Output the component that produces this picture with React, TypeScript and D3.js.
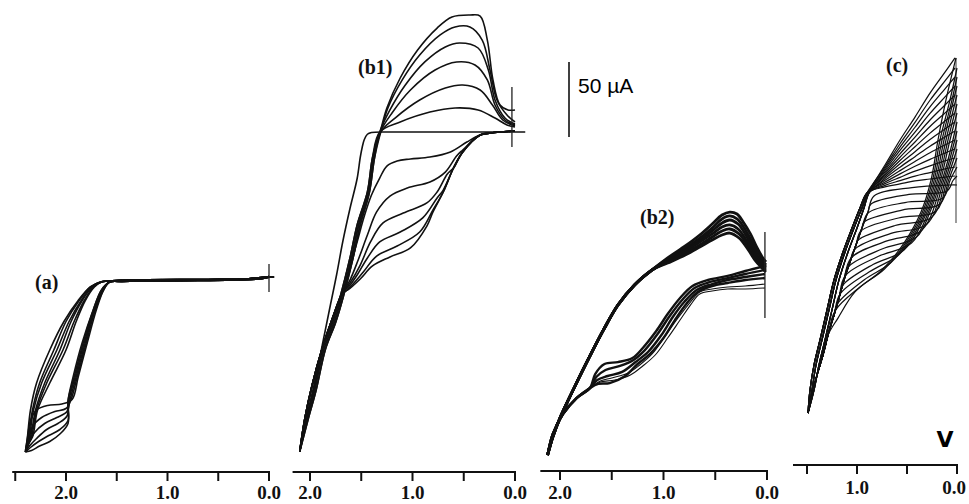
import React from "react";
import * as d3 from "d3";

type Pt = [number, number]; // [potential V, current µA]

// ---------------- Panel (a) ----------------
const aFlatOut: Pt[] = [[-0.05, 2.5], [0, 2.5], [0.08, 1.5], [0.25, 0.8], [0.7, 0.3], [1.2, 0], [1.45, -0.3]];
const aFlatBack: Pt[] = [[1.5, 0.3], [1.2, 0.8], [0.6, 1], [0.2, 1.5], [0.05, 2.5], [0, 3]];
const aForward: Pt[][] = [
  [[1.57, -0.7], [1.63, -6], [1.70, -19], [1.79, -41], [1.88, -64], [1.94, -79], [2.04, -82], [2.18, -83], [2.29, -86], [2.35, -93], [2.38, -105], [2.40, -114]],
  [[1.57, -0.7], [1.63, -6], [1.71, -19], [1.80, -41], [1.89, -64], [1.95, -79], [2.00, -85], [2.11, -87], [2.24, -91], [2.33, -97], [2.37, -107], [2.40, -114]],
  [[1.57, -0.7], [1.64, -6], [1.72, -19], [1.81, -41], [1.90, -64], [1.96, -79], [1.99, -87], [2.09, -91], [2.21, -95], [2.31, -101], [2.37, -109], [2.40, -114]],
  [[1.57, -0.7], [1.64, -6], [1.72, -19], [1.82, -41], [1.91, -64], [1.97, -79], [1.99, -90], [2.08, -95], [2.19, -99], [2.29, -105], [2.36, -110], [2.40, -114]],
  [[1.57, -0.7], [1.65, -6], [1.73, -19], [1.83, -41], [1.92, -64], [1.98, -80], [1.98, -93], [2.06, -99], [2.17, -103], [2.27, -107], [2.35, -111], [2.40, -114]],
  [[1.57, -0.7], [1.65, -6], [1.73, -19], [1.84, -41], [1.93, -64], [1.98, -80], [1.98, -95], [2.06, -102], [2.16, -107], [2.26, -110], [2.34, -113], [2.40, -114]],
];
const aReverse: Pt[][] = [
  [[2.40, -114], [2.38, -104], [2.35, -86], [2.29, -68], [2.16, -46], [2.02, -27], [1.88, -13], [1.76, -4], [1.66, -0.7]],
  [[2.40, -113], [2.37, -104], [2.33, -86], [2.26, -68], [2.12, -46], [2.00, -27], [1.87, -13], [1.76, -4], [1.66, -0.7]],
  [[2.39, -112], [2.36, -104], [2.32, -86], [2.24, -68], [2.09, -46], [1.97, -27], [1.85, -13], [1.75, -4], [1.66, -0.7]],
  [[2.39, -111], [2.35, -104], [2.30, -86], [2.21, -68], [2.06, -46], [1.95, -27], [1.84, -13], [1.74, -4], [1.65, -0.7]],
  [[2.38, -110], [2.34, -104], [2.29, -86], [2.19, -68], [2.03, -46], [1.92, -27], [1.82, -13], [1.73, -4], [1.65, -0.7]],
  [[2.38, -109], [2.33, -104], [2.28, -86], [2.16, -68], [2.00, -46], [1.90, -27], [1.81, -13], [1.72, -4], [1.65, -0.7]],
];
const aMarker = { v: 0, from: 11.3, to: -7.3 };

// ---------------- Panel (b1) ----------------
const b1FirstForward: Pt[] = [[-0.1, 0], [0, 0], [0.3, 0], [0.8, 0], [1.2, 0], [1.40, -0.3], [1.44, -1.5], [1.47, -5], [1.49, -10], [1.51, -17], [1.54, -31], [1.61, -51], [1.68, -73], [1.74, -95], [1.80, -115], [1.88, -142], [1.97, -175], [2.05, -196], [2.10, -213]];
const b1ForwardStart: Pt[] = [[0, 0.7], [0.15, 0], [0.24, -0.7], [0.34, -2]];
const b1ForwardShoulders: Pt[][] = [
  [[0.47, -6.7], [0.63, -13.3], [0.83, -16.7], [1.02, -18], [1.15, -19.3], [1.25, -22.7], [1.32, -30.7], [1.40, -42], [1.47, -56], [1.535, -72], [1.60, -88], [1.65, -100]],
  [[0.51, -12], [0.57, -16], [0.68, -26.7], [0.83, -33.3], [1.05, -37.3], [1.22, -42.7], [1.35, -53.3], [1.44, -68.7], [1.53, -85.3], [1.61, -98.7]],
  [[0.51, -13.3], [0.60, -24], [0.66, -28], [0.76, -40], [0.86, -47.3], [1.09, -54], [1.29, -60.7], [1.41, -73.3], [1.51, -88.7], [1.61, -100.7]],
  [[0.51, -13.3], [0.60, -24], [0.70, -38.7], [0.76, -44], [0.90, -57.3], [1.12, -66.7], [1.32, -73.3], [1.44, -84], [1.54, -95.3], [1.62, -103]],
  [[0.51, -13.3], [0.60, -24], [0.70, -40], [0.80, -52], [0.93, -66.7], [1.15, -76], [1.35, -82.7], [1.48, -93.3], [1.58, -101.3], [1.65, -106]],
  [[0.51, -13.3], [0.60, -24], [0.70, -40], [0.80, -53.3], [0.86, -62.7], [1.02, -77.3], [1.22, -83.3], [1.39, -89.3], [1.51, -98], [1.63, -105.3]],
];
const b1ForwardLower: Pt[] = [[1.68, -107], [1.78, -124], [1.88, -144], [1.98, -169], [2.05, -191], [2.10, -213]];
const b1ReverseBand: Pt[][] = [
  [[2.10, -213], [2.04, -192], [1.97, -172], [1.88, -145], [1.78, -127], [1.71, -111], [1.61, -84], [1.54, -62], [1.44, -40], [1.39, -17], [1.32, 0]],
  [[2.10, -213], [2.02, -192], [1.94, -172], [1.85, -145], [1.75, -127], [1.68, -111], [1.58, -84], [1.51, -62], [1.42, -40], [1.37, -17], [1.31, 0]],
  [[2.10, -213], [2.03, -192], [1.955, -172], [1.865, -145], [1.765, -127], [1.695, -111], [1.595, -84], [1.525, -62], [1.43, -40], [1.38, -17], [1.315, 0]],
];
const b1ReversePeaks: Pt[][] = [
  [[1.12, 6.7], [0.83, 13.3], [0.585, 16], [0.36, 14.7], [0.195, 9.3], [0.078, 4.7], [0, 3.3]],
  [[1.17, 9.3], [0.93, 21.3], [0.68, 29.3], [0.51, 31.3], [0.34, 28], [0.22, 18], [0.12, 8], [0, 4]],
  [[1.20, 12.7], [1.02, 28], [0.78, 41.3], [0.57, 46.7], [0.39, 44.7], [0.27, 34.7], [0.195, 18], [0.098, 8], [0, 4.7]],
  [[1.22, 14.7], [1.07, 31.3], [0.88, 46.7], [0.68, 56.7], [0.54, 59.3], [0.36, 56], [0.26, 41.3], [0.195, 21.3], [0.098, 9.3], [0, 5.3]],
  [[1.24, 16], [1.10, 34.7], [0.93, 51.3], [0.73, 64.7], [0.585, 70], [0.44, 70], [0.32, 61.3], [0.244, 41.3], [0.176, 21.3], [0.078, 11.3], [0, 6.7]],
  [[1.25, 16], [1.12, 36], [0.95, 54.7], [0.76, 69.3], [0.615, 76.7], [0.44, 78], [0.34, 77.3], [0.27, 61.3], [0.215, 34.7], [0.146, 18], [0.068, 14.7], [0, 14.7]],
];
const b1Marker = { v: 0.03, from: 30, to: -10 };

// ---------------- Panel (b2) ----------------
const b2Forward: Pt[][] = [
  [[0.02, -5.3], [0.21, -6], [0.38, -6], [0.53, -7.3], [0.65, -9.3], [0.74, -16.7], [0.84, -26.7], [0.96, -38.7], [1.08, -50], [1.20, -57.3], [1.32, -63.3], [1.47, -66.7], [1.61, -68]],
  [[0.02, -2.7], [0.21, -4], [0.38, -4.7], [0.53, -6], [0.65, -8], [0.74, -14.7], [0.86, -25.3], [0.99, -38], [1.11, -49.3], [1.23, -56.7], [1.34, -62], [1.50, -65.3], [1.61, -67.3]],
  [[0.02, 1.3], [0.21, 0], [0.38, -2], [0.53, -4], [0.67, -8], [0.78, -16], [0.89, -26.7], [1.0, -38.7], [1.13, -49.3], [1.25, -56], [1.37, -64], [1.52, -68.7], [1.63, -69.3]],
  [[0.02, 4], [0.21, 2], [0.38, 0], [0.53, -2.7], [0.68, -6.7], [0.80, -14.7], [0.91, -24.7], [1.02, -36.7], [1.15, -48], [1.27, -54.7], [1.40, -61.3], [1.54, -64], [1.64, -66.7]],
  [[0.02, 6.7], [0.21, 4], [0.38, 1.3], [0.55, -1.3], [0.70, -5.3], [0.82, -13.3], [0.94, -24], [1.05, -35.3], [1.18, -46.7], [1.29, -53.3], [1.42, -57.3], [1.56, -60], [1.65, -64.7]],
  [[0.02, 9.3], [0.21, 6], [0.38, 2.7], [0.57, 0], [0.72, -4], [0.84, -12], [0.96, -22.7], [1.07, -34], [1.20, -45.3], [1.30, -52], [1.44, -54.7], [1.57, -56], [1.66, -62.7]],
];
const b2ForwardTip: Pt[] = [[1.71, -72], [1.84, -78.7], [1.97, -89.3], [2.07, -102.7], [2.12, -116.7]];
const b2ReverseBase: Pt[] = [[2.12, -116.7], [2.07, -104.7], [2.0, -92], [1.92, -80], [1.85, -70], [1.73, -53.3], [1.58, -33.3], [1.44, -16.7], [1.28, -3.3], [1.11, 6.7]];
const b2ReverseTop: Pt[][] = [
  [[0.96, 14.7], [0.79, 22.7], [0.65, 30], [0.53, 37.3], [0.435, 43.3], [0.36, 45.3], [0.29, 44], [0.23, 38.7], [0.16, 30.7], [0.10, 22], [0.04, 14.7], [0.01, 12]],
  [[0.96, 14], [0.79, 21.3], [0.65, 28], [0.53, 34.7], [0.435, 40.7], [0.36, 42.7], [0.29, 40.7], [0.22, 34.7], [0.155, 26.7], [0.09, 18.7], [0.04, 12.7], [0.01, 10]],
  [[0.96, 13.3], [0.79, 20], [0.65, 26.7], [0.53, 32.7], [0.435, 38], [0.36, 40], [0.28, 37.3], [0.21, 30.7], [0.145, 22.7], [0.09, 16], [0.04, 10.7], [0.01, 8.7]],
  [[0.96, 12.7], [0.79, 19.3], [0.65, 25.3], [0.53, 30.7], [0.435, 35.3], [0.36, 36.7], [0.28, 34], [0.20, 26.7], [0.135, 19.3], [0.08, 13.3], [0.03, 9.3], [0.01, 8]],
  [[0.96, 12], [0.79, 18], [0.65, 23.3], [0.53, 28.7], [0.435, 32.7], [0.36, 34], [0.27, 30.7], [0.19, 23.3], [0.125, 16], [0.07, 10.7], [0.01, 6.7]],
  [[0.96, 11.3], [0.79, 16.7], [0.65, 22], [0.53, 26.7], [0.435, 30], [0.36, 31.3], [0.27, 28], [0.18, 20], [0.116, 13.3], [0.058, 8.7], [0.01, 5.3]],
];
const b2Marker = { v: 0.02, from: 32, to: -25.3 };

// ---------------- Panel (c) ----------------
const cReverseLow: Pt[][] = [
  [[1.49, -182], [1.47, -166.7], [1.43, -150], [1.37, -133.3], [1.30, -113.3], [1.23, -93.3], [1.14, -74.7], [1.05, -58.7], [0.97, -45.3], [0.90, -35.3]],
  [[1.49, -182], [1.45, -166.7], [1.41, -150], [1.35, -133.3], [1.28, -113.3], [1.21, -93.3], [1.12, -74.7], [1.03, -58.7], [0.95, -45.3], [0.89, -35.3]],
  [[1.49, -182], [1.43, -166.7], [1.38, -150], [1.32, -133.3], [1.25, -113.3], [1.18, -93.3], [1.09, -74.7], [1.00, -58.7], [0.93, -45.3], [0.88, -35.3]],
];
const cReverseUpper: Pt[][] = [
  [[0.72, -31.3], [0.57, -29.3], [0.42, -27.3], [0.27, -26], [0.12, -24.7], [0.02, -24]],
  [[0.72, -30.2], [0.57, -27.1], [0.42, -24.1], [0.27, -21.7], [0.12, -19.3], [0.02, -18]],
  [[0.72, -29.1], [0.57, -24.9], [0.42, -20.8], [0.27, -17.2], [0.12, -13.9], [0.02, -12]],
  [[0.72, -28], [0.57, -22.6], [0.42, -17.5], [0.27, -12.9], [0.12, -8.7], [0.02, -6]],
  [[0.72, -26.9], [0.57, -20.4], [0.42, -14.3], [0.27, -8.5], [0.12, -3.3], [0.02, 0]],
  [[0.72, -25.7], [0.57, -18.1], [0.42, -11.1], [0.27, -4.1], [0.12, 2], [0.02, 6]],
  [[0.72, -24.6], [0.57, -15.9], [0.42, -7.8], [0.27, 0.3], [0.12, 7.4], [0.02, 12]],
  [[0.72, -23.5], [0.57, -13.7], [0.42, -4.5], [0.27, 4.6], [0.12, 12.7], [0.02, 18]],
  [[0.72, -22.4], [0.57, -11.5], [0.42, -1.3], [0.27, 9], [0.12, 18], [0.02, 24]],
  [[0.72, -21.3], [0.57, -9.2], [0.42, 1.9], [0.27, 13.3], [0.12, 23.3], [0.02, 30]],
  [[0.72, -20.1], [0.57, -6.9], [0.42, 5.2], [0.27, 17.7], [0.12, 28.7], [0.02, 36]],
  [[0.72, -19], [0.57, -4.7], [0.42, 8.5], [0.27, 22.1], [0.12, 34.1], [0.02, 42]],
  [[0.72, -17.9], [0.57, -2.5], [0.42, 11.7], [0.27, 26.5], [0.12, 39.4], [0.02, 48]],
  [[0.72, -16.7], [0.57, 0], [0.42, 15.3], [0.27, 31.3], [0.12, 45.3], [0.02, 54.7]],
];
const cForward: Pt[][] = [
  [[0, -30], [0.07, -30], [0.45, -31.7], [0.83, -37.3]],
  [[0, -24], [0.04, -27], [0.10, -34], [0.48, -36.3], [0.86, -42.7]],
  [[0, -18], [0.068, -26.7], [0.14, -38.7], [0.52, -41.7], [0.89, -48.7]],
  [[0, -12], [0.084, -26.7], [0.17, -42.7], [0.55, -46.7], [0.93, -54.7]],
  [[0, -6], [0.10, -26.7], [0.21, -47.3], [0.585, -52], [0.96, -60.7]],
  [[0, 0], [0.116, -26.7], [0.25, -51.3], [0.62, -57], [0.99, -66.7]],
  [[0, 6], [0.132, -26.7], [0.30, -56], [0.66, -62.3], [1.02, -72.7]],
  [[0, 12], [0.148, -26.7], [0.35, -60], [0.70, -67.3], [1.06, -78.7]],
  [[0, 18], [0.07, 0], [0.164, -26.7], [0.27, -48], [0.405, -64.7], [0.75, -72.7], [1.09, -84.7]],
  [[0, 24], [0.09, 0], [0.18, -26.7], [0.285, -48], [0.455, -68.7], [0.79, -77.7], [1.12, -90.7]],
  [[0, 30], [0.11, 0], [0.196, -26.7], [0.30, -48], [0.53, -73.3], [0.84, -83], [1.14, -96.7]],
  [[0, 36], [0.13, 0], [0.212, -26.7], [0.315, -48], [0.485, -68.7], [0.595, -77.3], [0.88, -88], [1.17, -102.7]],
  [[0, 42], [0.05, 26.7], [0.15, 0], [0.228, -26.7], [0.33, -48], [0.50, -68.7], [0.665, -82], [0.93, -93.3], [1.19, -108.7]],
  [[0, 48], [0.07, 26.7], [0.17, 0], [0.244, -26.7], [0.345, -48], [0.515, -68.7], [0.725, -86], [0.97, -98], [1.22, -114]],
  [[0.01, 54.7], [0.11, 26.7], [0.19, 0], [0.26, -26.7], [0.36, -48], [0.53, -68.7], [0.75, -86.7], [1.02, -101.3], [1.19, -118.7]],
];
const cInnerBand: Pt[] = [[0.83, -36.7], [0.89, -48], [0.95, -58.7], [1.01, -70], [1.07, -81.3], [1.13, -93.3], [1.18, -105.3], [1.23, -116.7], [1.29, -130], [1.34, -143.3], [1.40, -156.7], [1.45, -170], [1.49, -182]];
const cMarker = { v: 0.01, from: 54.7, to: -55.3 };

// ---------------- Axes ----------------
const aTicks = [2.5, 2.0, 1.5, 1.0, 0.5, 0.0];
const b1Ticks = [2.0, 1.5, 1.0, 0.5, 0.0];
const b2Ticks = [2.0, 1.5, 1.0, 0.5, 0.0];
const cTicks = [1.5, 1.0, 0.5, 0.0];
const abTickLabels = [{ v: 2, t: "2.0" }, { v: 1, t: "1.0" }, { v: 0, t: "0.0" }];
const cTickLabels = [{ v: 1, t: "1.0" }, { v: 0, t: "0.0" }];
const scaleBarUA = 50;

const SERIF = "'Liberation Serif', 'Times New Roman', serif";
const SANS = "'Liberation Sans', Arial, sans-serif";

type Sc = { x: d3.ScaleLinear<number, number>; y: d3.ScaleLinear<number, number> };

function mk(x0: number, x2: number, y0: number): Sc {
  return {
    x: d3.scaleLinear().domain([0, 2]).range([x0, x2]),
    y: d3.scaleLinear().domain([0, 50]).range([y0, y0 - 75]),
  };
}

function gen(s: Sc) {
  return d3
    .line<Pt>()
    .x((d) => s.x(d[0]))
    .y((d) => s.y(d[1]))
    .curve(d3.curveCatmullRom.alpha(0.5));
}

function Axis(props: { s: Sc; y: number; vMax: number; ticks: number[]; labels: { v: number; t: string }[]; labelY: number; maxX?: number }) {
  const { s, y, vMax, ticks, labels, labelY, maxX = 2000 } = props;
  return (
    <g>
      <line x1={s.x(vMax)} x2={s.x(0) + 1} y1={y} y2={y} stroke="#111" strokeWidth={2} />
      {ticks.map((t) => (
        <line key={t} x1={s.x(t)} x2={s.x(t)} y1={y} y2={y + 9} stroke="#111" strokeWidth={2} />
      ))}
      {labels.map((l) => (
        <text key={l.t} x={Math.min(s.x(l.v), maxX)} y={labelY} textAnchor="middle" fontFamily={SERIF} fontWeight="bold" fontSize={19} fill="#111">
          {l.t}
        </text>
      ))}
    </g>
  );
}

function Marker(props: { s: Sc; m: { v: number; from: number; to: number }; color?: string }) {
  const { s, m, color = "#222" } = props;
  return <line x1={s.x(m.v)} x2={s.x(m.v)} y1={s.y(m.from)} y2={s.y(m.to)} stroke={color} strokeWidth={1.3} />;
}

export default function App() {
  const sa = mk(269, 66, 281);
  const sb1 = mk(515, 310, 132);
  const sb2 = mk(767, 560, 280);
  const sc = { x: d3.scaleLinear().domain([0, 1]).range([957, 857]), y: d3.scaleLinear().domain([0, 50]).range([140, 65]) };

  const la = gen(sa);
  const lb1 = gen(sb1);
  const lb2 = gen(sb2);
  const lc = gen(sc);

  const stroke = "#111";

  const aPaths: string[] = [];
  aForward.forEach((f, k) => {
    aPaths.push(la([...aFlatOut, ...f]) || "");
    aPaths.push(la([...aReverse[k], ...aFlatBack]) || "");
  });

  const b1Fwd: string[] = [lb1(b1FirstForward) || ""];
  b1ForwardShoulders.forEach((sh) => b1Fwd.push(lb1([...b1ForwardStart, ...sh, ...b1ForwardLower]) || ""));
  const b1Rev: string[] = b1ReversePeaks.map((p, i) => lb1([...b1ReverseBand[i % 3], ...p]) || "");

  const b2Fwd = b2Forward.map((f) => lb2([...f, ...b2ForwardTip]) || "");
  const b2Rev = b2ReverseTop.map((r) => lb2([...b2ReverseBase, ...r]) || "");

  const cRev = cReverseUpper.map((u, i) => lc([...cReverseLow[i % 3], ...u]) || "");
  const cFwd = cForward.map((f) => {
    const last = f[f.length - 1];
    const rest = cInnerBand.filter((p) => p[1] < last[1] - 3);
    return lc([...f, ...rest]) || "";
  });

  const barTop = 62;
  const barLen = sb1.y(0) - sb1.y(scaleBarUA);

  return (
    <svg width={969} height={504} style={{ position: "absolute", left: 0, top: 0, background: "#fff" }}>
      <rect x={0} y={0} width={969} height={504} fill="#fff" />

      {/* panel (a) */}
      <g fill="none" stroke={stroke} strokeWidth={1.6} strokeLinejoin="round">
        {aPaths.map((d, i) => (
          <path key={i} d={d} />
        ))}
      </g>
      <Marker s={sa} m={aMarker} />
      <text x={35} y={289} fontFamily={SERIF} fontWeight="bold" fontSize={20} fill="#111">(a)</text>
      <Axis s={sa} y={472} vMax={2.53} ticks={aTicks} labels={abTickLabels} labelY={499} />

      {/* panel (b1) */}
      <g fill="none" stroke={stroke} strokeWidth={1.6} strokeLinejoin="round">
        {b1Fwd.map((d, i) => (
          <path key={"f" + i} d={d} />
        ))}
        {b1Rev.map((d, i) => (
          <path key={"r" + i} d={d} />
        ))}
      </g>
      <Marker s={sb1} m={b1Marker} />
      <text x={358} y={74} fontFamily={SERIF} fontWeight="bold" fontSize={20} fill="#111">(b1)</text>
      <Axis s={sb1} y={472} vMax={2.17} ticks={b1Ticks} labels={abTickLabels} labelY={499} />

      {/* scale bar */}
      <line x1={569} x2={569} y1={barTop} y2={barTop + barLen} stroke="#000" strokeWidth={1.5} />
      <text x={578} y={93} fontFamily={SANS} fontSize={21} fill="#000">50 µA</text>

      {/* panel (b2) */}
      <g fill="none" stroke={stroke} strokeLinejoin="round">
        {b2Fwd.map((d, i) => (
          <path key={"f" + i} d={d} strokeWidth={i < 2 ? 1.1 : 2.4} />
        ))}
        {b2Rev.map((d, i) => (
          <path key={"r" + i} d={d} strokeWidth={2.8} />
        ))}
      </g>
      <Marker s={sb2} m={b2Marker} />
      <text x={640} y={224} fontFamily={SERIF} fontWeight="bold" fontSize={20} fill="#111">(b2)</text>
      <Axis s={sb2} y={471} vMax={2.19} ticks={b2Ticks} labels={abTickLabels} labelY={499} />

      {/* panel (c) */}
      <Marker s={sc} m={cMarker} color="#666" />
      <g fill="none" stroke="#111" strokeWidth={1.25} strokeLinejoin="round">
        {cRev.map((d, i) => (
          <path key={"r" + i} d={d} />
        ))}
        {cFwd.map((d, i) => (
          <path key={"f" + i} d={d} />
        ))}
      </g>
      <text x={886} y={72} fontFamily={SERIF} fontWeight="bold" fontSize={20} fill="#111">(c)</text>
      <Axis s={sc} y={465} vMax={1.64} ticks={cTicks} labels={cTickLabels} labelY={494} maxX={954} />
      <text x={945} y={447} textAnchor="middle" fontFamily="'DejaVu Sans', sans-serif" fontWeight="bold" fontSize={22} fill="#000">V</text>
    </svg>
  );
}
